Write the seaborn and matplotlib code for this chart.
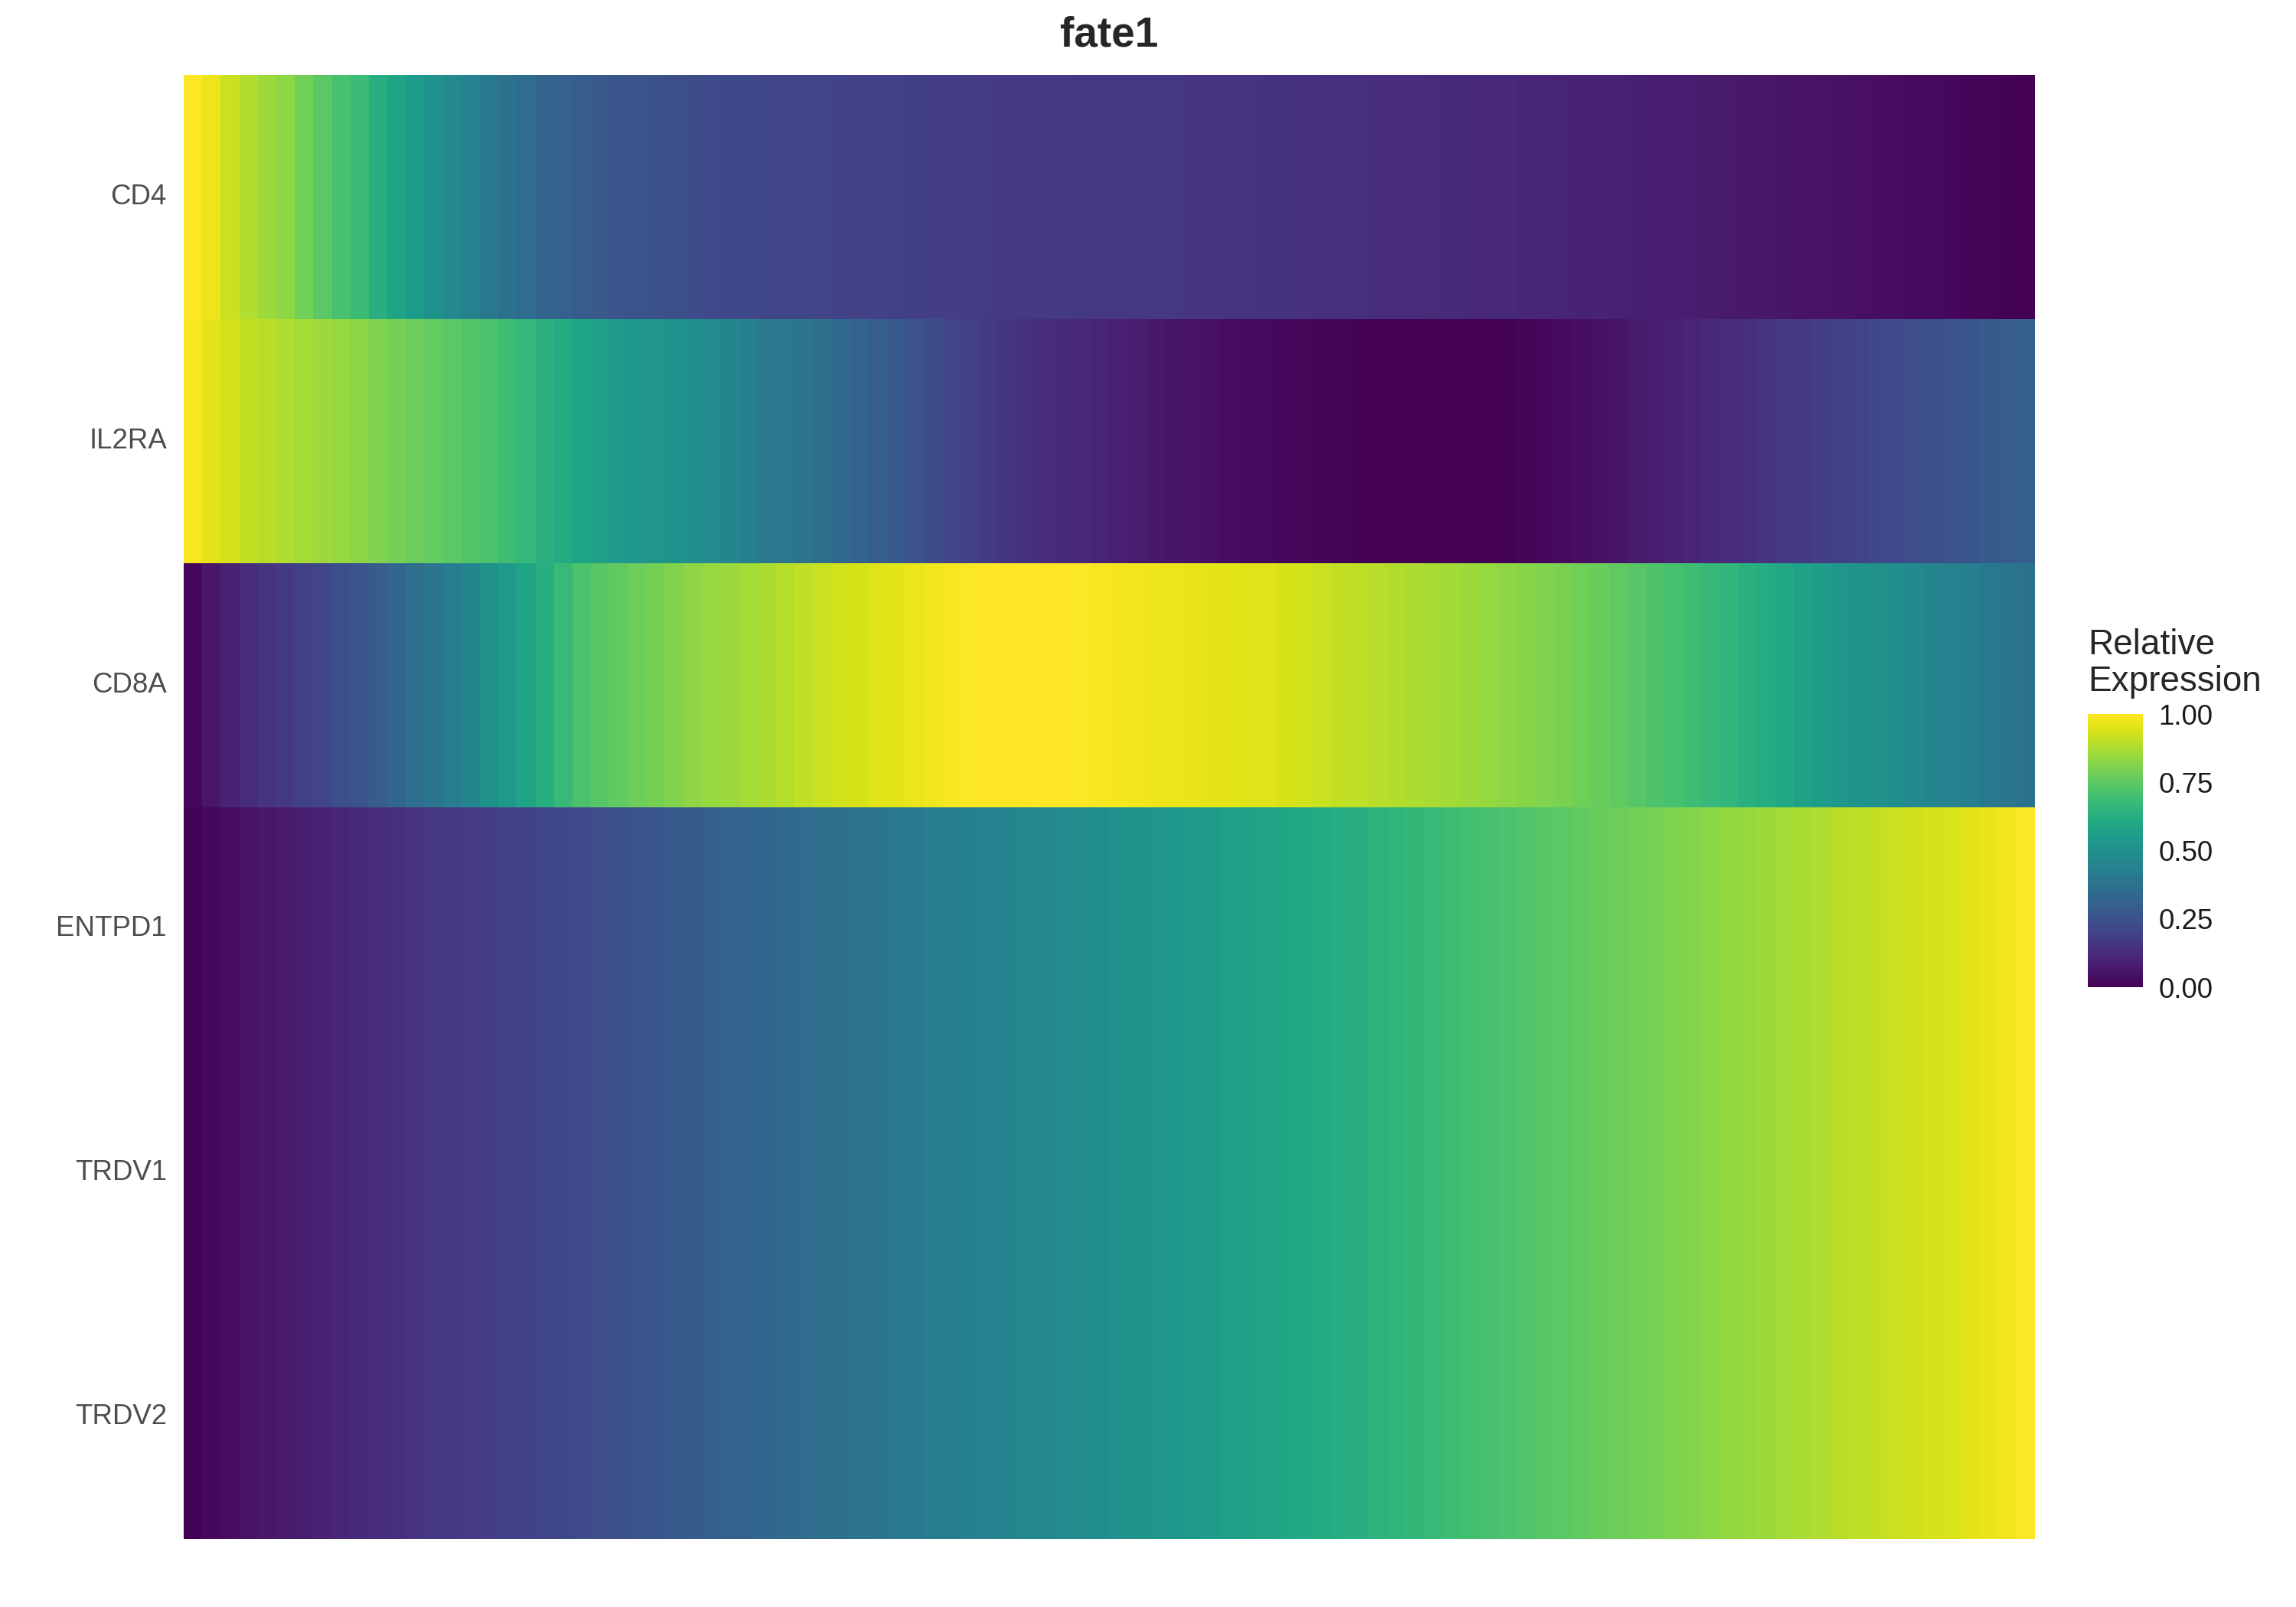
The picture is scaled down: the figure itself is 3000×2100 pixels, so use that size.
import pandas as pd
import matplotlib.pyplot as plt
import seaborn as sns

# ---------- DATA (relative expression along 100 pseudotime bins) ----------
genes = ["CD4", "IL2RA", "CD8A", "ENTPD1", "TRDV1", "TRDV2"]

cd4 = [1.0, 0.97, 0.92, 0.88, 0.855, 0.83, 0.785, 0.745, 0.71, 0.68,
       0.625, 0.585, 0.545, 0.51, 0.47, 0.44, 0.405, 0.375, 0.35, 0.32,
       0.305, 0.29, 0.275, 0.262, 0.255, 0.248, 0.24, 0.233, 0.226, 0.22,
       0.216, 0.212, 0.208, 0.204, 0.2, 0.196, 0.193, 0.19, 0.188, 0.185,
       0.183, 0.18, 0.177, 0.174, 0.171, 0.169, 0.167, 0.165, 0.164, 0.162,
       0.161, 0.16, 0.158, 0.157, 0.155, 0.153, 0.151, 0.149, 0.147, 0.145,
       0.142, 0.14, 0.137, 0.134, 0.131, 0.128, 0.125, 0.122, 0.119, 0.116,
       0.113, 0.11, 0.107, 0.104, 0.1, 0.097, 0.094, 0.09, 0.087, 0.084,
       0.08, 0.077, 0.073, 0.069, 0.065, 0.061, 0.057, 0.053, 0.049, 0.045,
       0.041, 0.037, 0.033, 0.029, 0.024, 0.02, 0.015, 0.01, 0.005, 0.0]

il2ra = [0.99, 0.96, 0.935, 0.91, 0.895, 0.88, 0.865, 0.855, 0.84, 0.825,
         0.805, 0.79, 0.775, 0.76, 0.745, 0.73, 0.715, 0.69, 0.665, 0.64,
         0.61, 0.585, 0.56, 0.54, 0.53, 0.52, 0.505, 0.495, 0.475, 0.455,
         0.43, 0.41, 0.395, 0.38, 0.36, 0.34, 0.32, 0.295, 0.275, 0.255,
         0.23, 0.21, 0.19, 0.17, 0.155, 0.14, 0.13, 0.12, 0.11, 0.1,
         0.09, 0.078, 0.066, 0.057, 0.048, 0.04, 0.034, 0.03, 0.026, 0.022,
         0.018, 0.013, 0.008, 0.004, 0.001, 0.0, 0.0, 0.0, 0.0, 0.0,
         0.002, 0.006, 0.012, 0.02, 0.028, 0.037, 0.046, 0.056, 0.068, 0.08,
         0.095, 0.105, 0.115, 0.127, 0.14, 0.15, 0.16, 0.17, 0.18, 0.192,
         0.205, 0.215, 0.225, 0.235, 0.246, 0.257, 0.268, 0.279, 0.29, 0.3]

cd8a = [0.02, 0.06, 0.095, 0.125, 0.15, 0.17, 0.19, 0.21, 0.24, 0.265,
        0.295, 0.325, 0.36, 0.39, 0.42, 0.455, 0.5, 0.54, 0.585, 0.63,
        0.675, 0.715, 0.735, 0.755, 0.775, 0.79, 0.81, 0.83, 0.84, 0.85,
        0.865, 0.875, 0.89, 0.905, 0.92, 0.93, 0.94, 0.95, 0.96, 0.97,
        0.98, 0.99, 0.995, 1.0, 1.0, 1.0, 1.0, 0.998, 0.995, 0.99,
        0.985, 0.98, 0.975, 0.97, 0.965, 0.96, 0.955, 0.952, 0.95, 0.94,
        0.93, 0.92, 0.91, 0.9, 0.892, 0.885, 0.878, 0.87, 0.86, 0.85,
        0.84, 0.83, 0.82, 0.81, 0.8, 0.785, 0.77, 0.755, 0.735, 0.72,
        0.705, 0.69, 0.67, 0.655, 0.635, 0.615, 0.595, 0.57, 0.55, 0.53,
        0.515, 0.5, 0.485, 0.47, 0.455, 0.44, 0.425, 0.405, 0.39, 0.375]

entpd1 = [0.005, 0.02, 0.035, 0.05, 0.062, 0.073, 0.085, 0.097, 0.108, 0.12,
          0.13, 0.14, 0.15, 0.158, 0.166, 0.174, 0.182, 0.19, 0.198, 0.206,
          0.215, 0.225, 0.235, 0.245, 0.256, 0.267, 0.278, 0.289, 0.3, 0.31,
          0.32, 0.33, 0.34, 0.35, 0.36, 0.37, 0.38, 0.39, 0.4, 0.41,
          0.418, 0.426, 0.434, 0.442, 0.45, 0.458, 0.466, 0.474, 0.482, 0.49,
          0.5, 0.51, 0.52, 0.53, 0.54, 0.55, 0.56, 0.57, 0.58, 0.59,
          0.6, 0.61, 0.62, 0.63, 0.641, 0.652, 0.663, 0.674, 0.685, 0.696,
          0.706, 0.716, 0.726, 0.736, 0.746, 0.756, 0.766, 0.776, 0.786, 0.796,
          0.806, 0.816, 0.826, 0.836, 0.846, 0.855, 0.864, 0.873, 0.882, 0.891,
          0.9, 0.909, 0.918, 0.927, 0.936, 0.945, 0.955, 0.966, 0.978, 0.995]
trdv1 = list(entpd1)
trdv2 = list(entpd1)

df = pd.DataFrame([cd4, il2ra, cd8a, entpd1, trdv1, trdv2], index=genes)

# ---------- PLOT ----------
sns.set_theme(style="white")
plt.rcParams["font.family"] = ["Liberation Sans", "DejaVu Sans"]

fig = plt.figure(figsize=(10, 7), dpi=300)
ax = fig.add_axes([0.08, 0.0424, 0.8063, 0.9109])
cax = fig.add_axes([0.9093, 0.3857, 0.024, 0.17])

sns.heatmap(
    df, ax=ax, cbar_ax=cax, cmap="viridis", vmin=0, vmax=1,
    xticklabels=False, yticklabels=True,
    cbar_kws={"ticks": [0, 0.25, 0.5, 0.75, 1.0]},
)

ax.set_title("fate1", fontsize=13.2, fontweight="bold", pad=9)
ax.set_xlabel("")
ax.set_ylabel("")
ax.tick_params(axis="y", length=0, pad=5.3, labelsize=8.8, labelcolor="#4d4d4d", rotation=0)
for s in ax.spines.values():
    s.set_visible(False)

cax.set_yticklabels(["0.00", "0.25", "0.50", "0.75", "1.00"])
cax.tick_params(axis="y", direction="in", length=3.6, width=0.6, color="white",
                left=True, right=True, labelleft=False, labelright=True,
                labelsize=8.8, labelcolor="#1a1a1a", pad=5)
for s in cax.spines.values():
    s.set_visible(False)

fig.text(0.9093, 0.609, "Relative\nExpression", fontsize=11, ha="left", va="top",
         linespacing=1.1)

plt.savefig("out.png", dpi=300)
plt.close()
